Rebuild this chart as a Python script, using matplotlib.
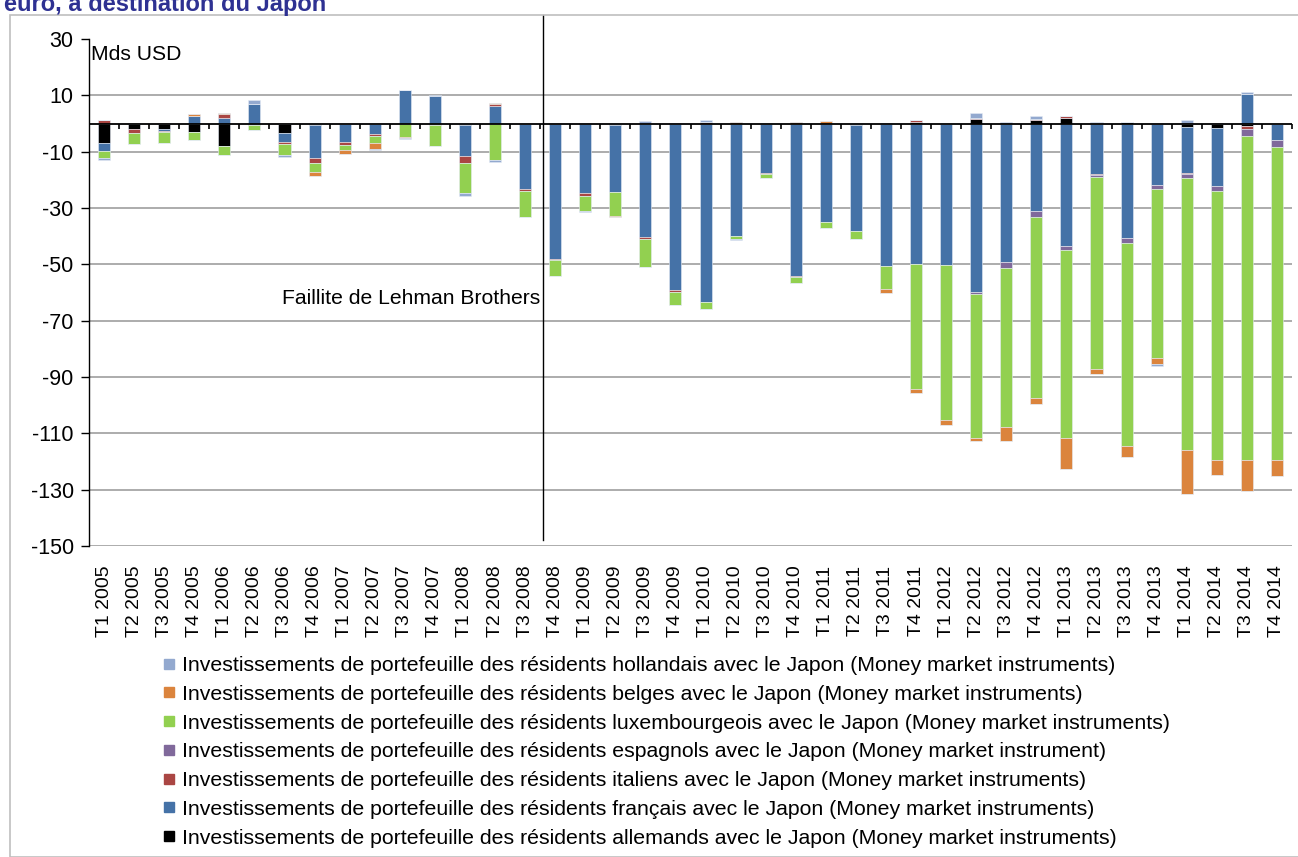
import matplotlib
matplotlib.use("Agg")
import matplotlib.pyplot as plt
from matplotlib.lines import Line2D
from matplotlib.patches import Rectangle
import numpy as np

plt.rcParams['font.family'] = ['Liberation Sans', 'DejaVu Sans']
plt.rcParams['axes.unicode_minus'] = False

categories = [
    "T1 2005", "T2 2005", "T3 2005", "T4 2005",
    "T1 2006", "T2 2006", "T3 2006", "T4 2006",
    "T1 2007", "T2 2007", "T3 2007", "T4 2007",
    "T1 2008", "T2 2008", "T3 2008", "T4 2008",
    "T1 2009", "T2 2009", "T3 2009", "T4 2009",
    "T1 2010", "T2 2010", "T3 2010", "T4 2010",
    "T1 2011", "T2 2011", "T3 2011", "T4 2011",
    "T1 2012", "T2 2012", "T3 2012", "T4 2012",
    "T1 2013", "T2 2013", "T3 2013", "T4 2013",
    "T1 2014", "T2 2014", "T3 2014", "T4 2014",
]

allemands = [-6.9, -1.8, -1.9, -3.0, -8.0, -0.4, -3.3, -0.7, 0, 0, 0, 0,
             -0.5, 0, 0, 0, 0.3, -0.5, 0, 0, 0, 0, 0, 0,
             0, -0.7, 0, 0.7, 0, 1.7, 0, 1.4, 1.8, 0.2, 0.6, 0,
             -1.3, -1.5, -0.9, -0.2]
francais = [-2.7, 0, -0.6, 2.8, 1.9, 7.1, -3.3, -11.5, -6.5, -3.9, 11.8, 9.9,
            -11.0, 6.2, -23.3, -48.1, -24.8, -23.7, -40.4, -59.0, -63.3, -40.0, -17.6, -54.1,
            -34.8, -37.6, -50.6, -50.0, -50.2, -59.7, -49.0, -31.1, -43.4, -17.9, -40.7, -22.0,
            -16.1, -20.6, 10.5, -5.7]
italiens = [1.2, -1.6, -0.5, -0.1, 1.4, 0, -0.8, -1.8, -1.1, -0.6, 0.2, -0.6,
            -2.6, 0.6, -0.5, -0.5, -0.9, 0, -0.6, -0.9, 0.7, 0, -0.5, -0.3,
            0, 0, 0, 0.4, 0, 0.3, 0, 0.2, 0.8, -0.4, 0, 0.3,
            -0.6, 0, -1.0, 0]
espagnols = [0, 0, 0, 0, 0, 0, 0, 0, 0, 0, 0, 0,
             0, 0, 0, 0, 0, 0, 0, 0, 0, 0, 0, 0,
             0, 0, 0, 0, 0, -1.0, -2.4, -2.0, -1.5, -0.6, -1.7, -1.4,
             -1.4, -1.7, -2.7, -2.6]
luxembourgeois = [-2.7, -4.0, -3.8, -2.7, -3.1, -1.9, -3.9, -3.3, -1.9, -2.6, -4.7, -7.5,
                  -10.7, -13.1, -9.3, -5.5, -5.2, -8.8, -9.8, -4.7, -2.6, -1.0, -1.1, -2.1,
                  -2.4, -2.7, -8.2, -44.1, -54.9, -51.1, -56.2, -64.2, -66.9, -68.4, -72.1, -60.0,
                  -96.6, -95.6, -114.7, -111.0]
belges = [0, 0, 0, 0.6, 0.4, 0, 0, -1.2, -1.2, -2.1, -0.5, 0,
          0, 0.6, 0, 0.3, 0, -0.2, 0, 0, 0, 0.6, 0.3, 0.4,
          0.8, 0, -1.2, -1.5, -2.0, -1.0, -5.0, -2.2, -10.8, -1.7, -4.0, -2.1,
          -15.5, -5.4, -11.3, -5.5]
hollandais = [-0.5, 0, 0, -0.2, -0.2, 1.1, -0.5, -0.2, -0.2, -0.2, -0.3, 0.2,
              -0.8, -0.7, 0, -0.2, -0.35, 0, 0.8, 0.2, 0.5, -0.2, 0, 0.2,
              0, 0, 0.3, 0, 0, 1.7, 0.6, 0.9, 0, 0.5, 0, -0.7,
              1.2, 0.3, 0.8, 0]

series_names = [
    "Investissements de portefeuille des résidents allemands avec le Japon (Money market instruments)",
    "Investissements de portefeuille des résidents français avec le Japon (Money market instruments)",
    "Investissements de portefeuille des résidents italiens avec le Japon (Money market instruments)",
    "Investissements de portefeuille des résidents espagnols avec le Japon (Money market instrument)",
    "Investissements de portefeuille des résidents luxembourgeois avec le Japon (Money market instruments)",
    "Investissements de portefeuille des résidents belges avec le Japon (Money market instruments)",
    "Investissements de portefeuille des résidents hollandais avec le Japon (Money market instruments)",
]
series_values = [allemands, francais, italiens, espagnols, luxembourgeois, belges, hollandais]
series_colors = ["#000000", "#4572A7", "#AA4643", "#80699B", "#92D050", "#DB843D", "#93A9CF"]

W, H = 1298, 857
fig = plt.figure(figsize=(W / 100, H / 100), dpi=100)
ax = fig.add_axes([89 / W, 1 - 546 / H, (1292 - 89) / W, (546 - 39) / H])

x = np.arange(len(categories))
pos_base = np.zeros(len(categories))
neg_base = np.zeros(len(categories))
for vals, col in zip(series_values, series_colors):
    v = np.array(vals, dtype=float)
    pos = np.where(v > 0, v, 0)
    neg = np.where(v < 0, v, 0)
    ax.bar(x, pos, bottom=pos_base, width=0.4, color=col,
           edgecolor="#E6ECF5", linewidth=0.4, zorder=3)
    ax.bar(x, neg, bottom=neg_base, width=0.4, color=col,
           edgecolor="#E6ECF5", linewidth=0.4, zorder=3)
    pos_base += pos
    neg_base += neg

ax.set_xlim(-0.5, len(categories) - 0.5)
ax.set_ylim(-150, 30)
yt = np.arange(-150, 31, 20)
ax.set_yticks(yt)
ax.set_yticklabels([str(v) for v in yt], fontsize=15.5)
for v in yt:
    if v != 30:
        ax.axhline(v, color="#A6A6A6", linewidth=1.3, zorder=1)

ax.set_xticks(x)
ax.set_xticklabels(categories, rotation=90, fontsize=14, va="top")
ax.tick_params(axis="x", length=0, pad=14)
ax.tick_params(axis="y", length=6, width=1, direction="out", pad=5)

for s in ["top", "right", "bottom"]:
    ax.spines[s].set_visible(False)
ax.spines["left"].set_linewidth(1)

# zero axis with category tick marks
ax.axhline(0, color="black", linewidth=1.3, zorder=4)
ax.vlines(x[:-1] + 0.5, -2.1, 0, color="black", linewidth=1.2, zorder=4)
ax.vlines([len(categories) - 0.5], -2.1, 0, color="black", linewidth=1.2, zorder=4, clip_on=False)

# Lehman line
ax.plot([14.6, 14.6], [-148, 38.5], color="black", linewidth=1, zorder=5, clip_on=False)
ax.text(14.5, -62.2, "Faillite de Lehman Brothers", ha="right", va="center", fontsize=15.2, zorder=6)
ax.text(-0.42, 24.4, "Mds USD", ha="left", va="center", fontsize=15.2, zorder=6)

# outer border
fig.patches.append(Rectangle((10 / W, 0), (W - 10) / W + 0.01, 1 - 15 / H,
                             transform=fig.transFigure, fill=False,
                             edgecolor="#BFBFBF", linewidth=1.2))

# title (partly cut, as in the reference)
fig.text(4 / W, 1 - 11 / H, "euro, à destination du Japon", color="#2E3192",
         fontsize=17, fontweight="bold", ha="left", va="baseline")

handles = [Line2D([], [], marker="s", linestyle="None", markersize=7,
                  markerfacecolor=c, markeredgecolor=c)
           for c in series_colors]
fig.legend(handles[::-1], series_names[::-1], loc="upper left",
           bbox_to_anchor=(161 / W, 1 - 656 / H), frameon=False,
           fontsize=15.3, handlelength=0.75, handletextpad=0.25,
           labelspacing=0.46, borderpad=0, borderaxespad=0)

fig.savefig("out.png", dpi=100)
